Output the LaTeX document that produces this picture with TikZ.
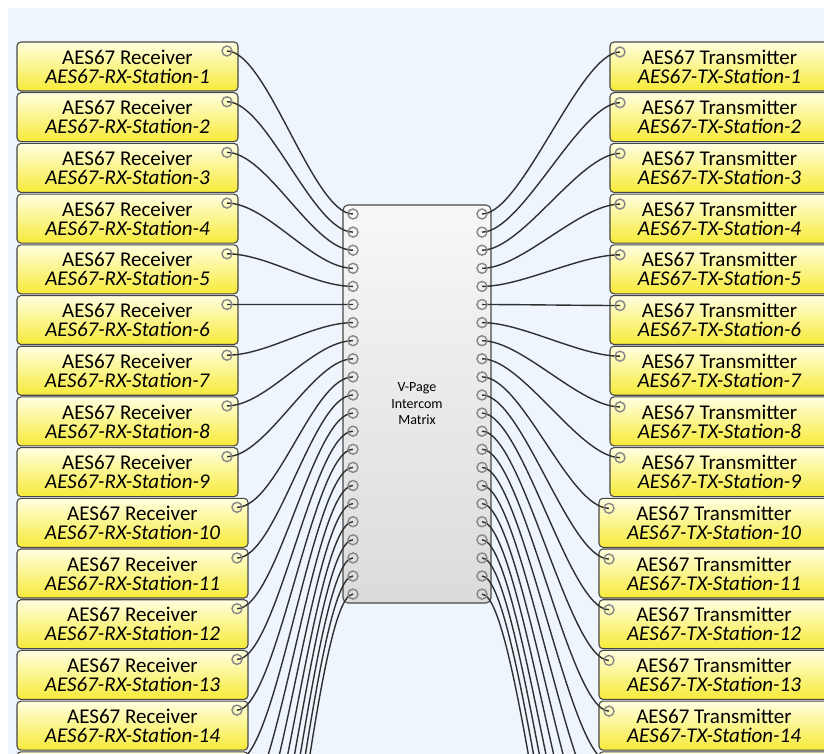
\documentclass[tikz,border=0pt]{standalone}
\usepackage{fontspec}
\setmainfont{Carlito}
\usetikzlibrary{positioning}
\definecolor{bgblue}{RGB}{238,245,252}
\definecolor{yeltop}{RGB}{255,255,224}
\definecolor{yelbot}{RGB}{247,234,56}
\definecolor{framec}{RGB}{72,72,72}
\definecolor{wirec}{RGB}{48,48,48}
\definecolor{portc}{RGB}{135,135,135}

\begin{document}
\begin{tikzpicture}[x=1pt,y=-1pt,
  stationbox/.style={draw=framec,line width=1.1pt,rounded corners=4pt,top color=yeltop,bottom color=yelbot,inner sep=0pt,minimum height=49pt,align=center,font=\fontsize{21}{19}\selectfont},
  matrixbox/.style={draw=framec,line width=1.1pt,rounded corners=5pt,top color=gray!6,bottom color=gray!28,inner sep=0pt,minimum width=148pt,minimum height=398pt,align=center,font=\fontsize{14}{16.5}\selectfont},
  port/.style={circle,draw=portc,line width=1.4pt,inner sep=0pt,minimum size=10pt},
  wire/.style={draw=wirec,line width=1.4pt}]
\useasboundingbox (0,0) rectangle (824,754);
\clip (0,0) rectangle (824,754);
\fill[white] (0,0) rectangle (824,754);
\fill[bgblue] (8,8) rectangle (824,754);

% stations, left receivers and right transmitters
\foreach \k in {1,...,22}{
  \pgfmathsetmacro{\ty}{42+(\k-1)*50.7}
  \ifnum\k<10
    \node[stationbox,minimum width=221pt] (rx\k) at (127.5,\ty+24.5) {AES67 Receiver\\\textit{AES67-RX-Station-\k}};
    \coordinate (rxp\k) at (227,\ty+9);
    \node[stationbox,minimum width=219pt] (tx\k) at (719.5,\ty+24.5) {AES67 Transmitter\\\textit{AES67-TX-Station-\k}};
    \coordinate (txp\k) at (620,\ty+10);
  \else
    \ifnum\k<15
      \node[stationbox,minimum width=231pt] (rx\k) at (132.5,\ty+24.5) {AES67 Receiver\\\textit{AES67-RX-Station-\k}};
      \node[stationbox,minimum width=230pt] (tx\k) at (714,\ty+24.5) {AES67 Transmitter\\\textit{AES67-TX-Station-\k}};
    \else
      % below the visible part, only the box tops show
      \node[stationbox,minimum width=231pt] (rx\k) at (132.5,\ty+24.5) {};
      \node[stationbox,minimum width=230pt] (tx\k) at (714,\ty+24.5) {};
    \fi
    \coordinate (rxp\k) at (237,\ty+9);
    \coordinate (txp\k) at (609,\ty+10);
  \fi
}

% matrix
\node[matrixbox] (vpage) at (417,404) {V-Page\\Intercom\\Matrix};
\foreach \i in {1,...,22}{
  \pgfmathsetmacro{\my}{214+(\i-1)*18.1}
  \coordinate (ml\i) at (353,\my);
  \coordinate (mr\i) at (482,\my);
}

% wires
\foreach \k in {1,...,22}{
  \draw[wire] (rxp\k) .. controls +(40,0) and +(-40,0) .. (ml\k);
  \draw[wire] (mr\k) .. controls +(40,0) and +(-40,0) .. (txp\k);
}

% port rings
\foreach \k in {1,...,22}{
  \node[port] (rxring\k) at (rxp\k) {};
  \node[port] (txring\k) at (txp\k) {};
  \node[port] (mlring\k) at (ml\k) {};
  \node[port] (mrring\k) at (mr\k) {};
}
\end{tikzpicture}
\end{document}
